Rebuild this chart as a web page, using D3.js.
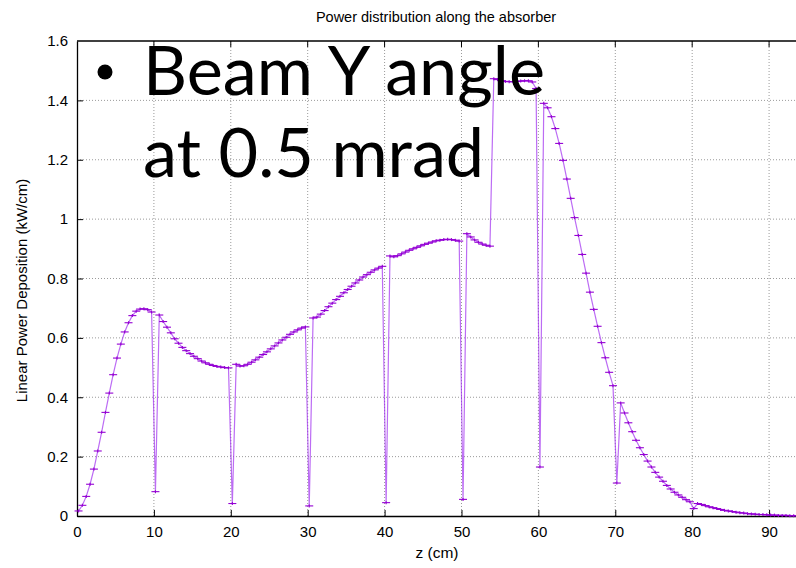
<!DOCTYPE html>
<html>
<head>
<meta charset="utf-8">
<script src="https://cdn.jsdelivr.net/npm/d3@7"></script>
<style>
  body { margin: 0; background: #fff; }
  svg { display: block; }
</style>
</head>
<body>
<div id="chart"></div>
<script>
// z positions (cm) and linear power (kW/cm), segment by segment
const zSeg1 = [0.2, 0.7, 1.2, 1.7, 2.2, 2.7, 3.2, 3.7, 4.2, 4.7, 5.2, 5.7, 6.2, 6.7, 7.2, 7.7, 8.2, 8.7, 9.2, 9.7];
const pSeg1 = [0.017, 0.036, 0.066, 0.107, 0.158, 0.219, 0.282, 0.349, 0.414, 0.476, 0.532, 0.579, 0.620, 0.651, 0.675, 0.690, 0.697, 0.698, 0.695, 0.687];

const zSeg2 = [10.2, 10.7, 11.2, 11.7, 12.2, 12.7, 13.2, 13.7, 14.2, 14.7, 15.2, 15.7, 16.2, 16.7, 17.2, 17.7, 18.2, 18.7, 19.2, 19.7];
const pSeg2 = [0.082, 0.677, 0.655, 0.636, 0.617, 0.597, 0.582, 0.568, 0.557, 0.547, 0.538, 0.530, 0.522, 0.516, 0.511, 0.507, 0.504, 0.502, 0.500, 0.499];

const zSeg3 = [20.2, 20.7, 21.2, 21.7, 22.2, 22.7, 23.2, 23.7, 24.2, 24.7, 25.2, 25.7, 26.2, 26.7, 27.2, 27.7, 28.2, 28.7, 29.2, 29.7];
const pSeg3 = [0.042, 0.511, 0.505, 0.506, 0.511, 0.518, 0.526, 0.535, 0.544, 0.553, 0.563, 0.573, 0.583, 0.593, 0.602, 0.612, 0.620, 0.627, 0.633, 0.637];

const zSeg4 = [30.2, 30.7, 31.2, 31.7, 32.2, 32.7, 33.2, 33.7, 34.2, 34.7, 35.2, 35.7, 36.2, 36.7, 37.2, 37.7, 38.2, 38.7, 39.2, 39.7];
const pSeg4 = [0.034, 0.667, 0.670, 0.680, 0.692, 0.705, 0.717, 0.729, 0.740, 0.752, 0.763, 0.774, 0.785, 0.795, 0.805, 0.813, 0.821, 0.829, 0.835, 0.841];

const zSeg5 = [40.2, 40.7, 41.2, 41.7, 42.2, 42.7, 43.2, 43.7, 44.2, 44.7, 45.2, 45.7, 46.2, 46.7, 47.2, 47.7, 48.2, 48.7, 49.2, 49.7];
const pSeg5 = [0.045, 0.876, 0.873, 0.877, 0.883, 0.889, 0.895, 0.900, 0.905, 0.910, 0.915, 0.919, 0.923, 0.927, 0.929, 0.931, 0.932, 0.931, 0.929, 0.926];

const zSeg6 = [50.2, 50.7, 51.2, 51.7, 52.2, 52.7, 53.2, 53.7, 54.2, 54.7, 55.2, 55.7, 56.2, 56.7, 57.2, 57.7, 58.2, 58.7, 59.2, 59.7];
const pSeg6 = [0.056, 0.951, 0.940, 0.930, 0.922, 0.916, 0.912, 0.909, 1.473, 1.470, 1.466, 1.464, 1.463, 1.463, 1.464, 1.465, 1.466, 1.466, 1.462, 1.440];

const zSeg7 = [60.2, 60.7, 61.2, 61.7, 62.2, 62.7, 63.2, 63.7, 64.2, 64.7, 65.2, 65.7, 66.2, 66.7, 67.2, 67.7, 68.2, 68.7, 69.2, 69.7];
const pSeg7 = [0.165, 1.390, 1.375, 1.345, 1.305, 1.255, 1.198, 1.135, 1.070, 1.005, 0.945, 0.881, 0.818, 0.754, 0.696, 0.639, 0.584, 0.533, 0.484, 0.439];

const zSeg8 = [70.2, 70.7, 71.2, 71.7, 72.2, 72.7, 73.2, 73.7, 74.2, 74.7, 75.2, 75.7, 76.2, 76.7, 77.2, 77.7, 78.2, 78.7, 79.2, 79.7];
const pSeg8 = [0.111, 0.381, 0.347, 0.314, 0.284, 0.255, 0.230, 0.207, 0.185, 0.165, 0.147, 0.131, 0.117, 0.103, 0.091, 0.080, 0.071, 0.063, 0.055, 0.048];

const zSeg9 = [80.2, 80.7, 81.2, 81.7, 82.2, 82.7, 83.2, 83.7, 84.2, 84.7, 85.2, 85.7, 86.2, 86.7, 87.2, 87.7, 88.2, 88.7, 89.2, 89.7, 90.2, 90.7, 91.2, 91.7, 92.2, 92.7, 93.2, 93.7];
const pSeg9 = [0.025, 0.042, 0.039, 0.035, 0.031, 0.028, 0.025, 0.022, 0.019, 0.017, 0.015, 0.013, 0.011, 0.010, 0.008, 0.007, 0.006, 0.005, 0.005, 0.004, 0.003, 0.003, 0.002, 0.002, 0.002, 0.001, 0.001, 0.001];

const xTicks = [0, 10, 20, 30, 40, 50, 60, 70, 80, 90];
const yTicks = [0, 0.2, 0.4, 0.6, 0.8, 1, 1.2, 1.4, 1.6];

const titleText = "Power distribution along the absorber";
const xLabel = "z (cm)";
const yLabel = "Linear Power Deposition (kW/cm)";
const noteLines = ["Beam Y angle", "at 0.5 mrad"];

const zAll = [].concat(zSeg1, zSeg2, zSeg3, zSeg4, zSeg5, zSeg6, zSeg7, zSeg8, zSeg9);
const pAll = [].concat(pSeg1, pSeg2, pSeg3, pSeg4, pSeg5, pSeg6, pSeg7, pSeg8, pSeg9);
const data = zAll.map((z, i) => ({z: z, p: pAll[i]}));

const W = 796, H = 568;
const margin = {top: 41, right: 0, bottom: 52, left: 77};
const width = W - margin.left - margin.right,
  height = H - margin.top - margin.bottom;

const svg = d3.select("#chart")
  .append("svg")
    .attr("width", W)
    .attr("height", H);

const g = svg.append("g")
  .attr("transform", "translate(" + margin.left + "," + margin.top + ")");

const x = d3.scaleLinear().domain([0, 93.5]).range([0, width]);
const y = d3.scaleLinear().domain([0, 1.6]).range([height, 0]);

const font = "'Liberation Sans', Arial, sans-serif";

// grid
g.append("g").selectAll("line")
  .data(xTicks.filter(d => d > 0))
  .enter().append("line")
    .attr("x1", d => x(d)).attr("x2", d => x(d))
    .attr("y1", 0).attr("y2", height)
    .attr("stroke", "#9a9a9a").attr("stroke-width", 1)
    .attr("stroke-dasharray", "1,2");
g.append("g").selectAll("line")
  .data(yTicks.filter(d => d > 0 && d < 1.6))
  .enter().append("line")
    .attr("x1", 0).attr("x2", width)
    .attr("y1", d => y(d)).attr("y2", d => y(d))
    .attr("stroke", "#9a9a9a").attr("stroke-width", 1)
    .attr("stroke-dasharray", "1,2");

// axes with inward ticks
const xAxis = g.append("g")
  .attr("transform", "translate(0," + height + ")")
  .call(d3.axisBottom(x).tickValues(xTicks).tickSizeInner(-6).tickSizeOuter(0).tickPadding(10).tickFormat(d3.format("d")));
const yAxis = g.append("g")
  .call(d3.axisLeft(y).tickValues(yTicks).tickSizeInner(-6).tickSizeOuter(0).tickPadding(9).tickFormat(d => d === 0 ? "0" : d3.format("~g")(d)));
[xAxis, yAxis].forEach(a => {
  a.selectAll("text").attr("font-family", font).attr("font-size", 15).attr("fill", "#000");
  a.selectAll("line").attr("stroke", "#000");
  a.select(".domain").attr("stroke", "#000").attr("stroke-width", 1.3);
});
yAxis.selectAll(".tick").filter(d => d === 1.6).select("line").remove();

// top border with inward ticks
g.append("line")
  .attr("x1", 0).attr("x2", width).attr("y1", 0).attr("y2", 0)
  .attr("stroke", "#000").attr("stroke-width", 1.3);
g.append("g").selectAll("line")
  .data(xTicks.filter(d => d > 0))
  .enter().append("line")
    .attr("x1", d => x(d)).attr("x2", d => x(d))
    .attr("y1", 0).attr("y2", 6)
    .attr("stroke", "#000");

// the curve
g.append("path")
  .datum(data)
  .attr("fill", "none")
  .attr("stroke", "#a02ef0")
  .attr("stroke-opacity", 0.7)
  .attr("stroke-width", 1.2)
  .attr("d", d3.line().x(d => x(d.z)).y(d => y(d.p)));

// point markers (small horizontal bars with a short stem)
const marks = g.append("g").attr("stroke", "#9400d3").attr("stroke-width", 1.1);
marks.selectAll(".h")
  .data(data).enter().append("line")
    .attr("x1", d => x(d.z) - 4).attr("x2", d => x(d.z) + 4)
    .attr("y1", d => y(d.p)).attr("y2", d => y(d.p));
marks.selectAll(".v")
  .data(data).enter().append("line")
    .attr("x1", d => x(d.z)).attr("x2", d => x(d.z))
    .attr("y1", d => y(d.p) - 1.5).attr("y2", d => y(d.p) + 1.5);

// titles
svg.append("text")
  .attr("x", 436).attr("y", 22)
  .attr("text-anchor", "middle")
  .attr("font-family", font).attr("font-size", 14.5)
  .text(titleText);
svg.append("text")
  .attr("x", 437).attr("y", 558)
  .attr("text-anchor", "middle")
  .attr("font-family", font).attr("font-size", 15.5)
  .text(xLabel);
svg.append("text")
  .attr("transform", "translate(27," + (margin.top + height / 2 + 12) + ") rotate(-90)")
  .attr("text-anchor", "middle")
  .attr("font-family", font).attr("font-size", 15)
  .text(yLabel);

// slide overlay text
svg.append("circle").attr("cx", 105).attr("cy", 72).attr("r", 7.5).attr("fill", "#000");
const note = svg.append("g").attr("font-family", "Lato, 'Open Sans', sans-serif").attr("fill", "#000");
const l1 = note.append("text").attr("x", 143).attr("y", 95).attr("font-size", 62).text(noteLines[0]);
note.append("text").attr("x", 143).attr("y", 177).attr("font-size", 62).text(noteLines[1]);
// fit size so the first line spans like the original
const w1 = l1.node().getComputedTextLength();
const fs = 62 * 402 / w1;
note.selectAll("text").attr("font-size", fs);
</script>
</body>
</html>
